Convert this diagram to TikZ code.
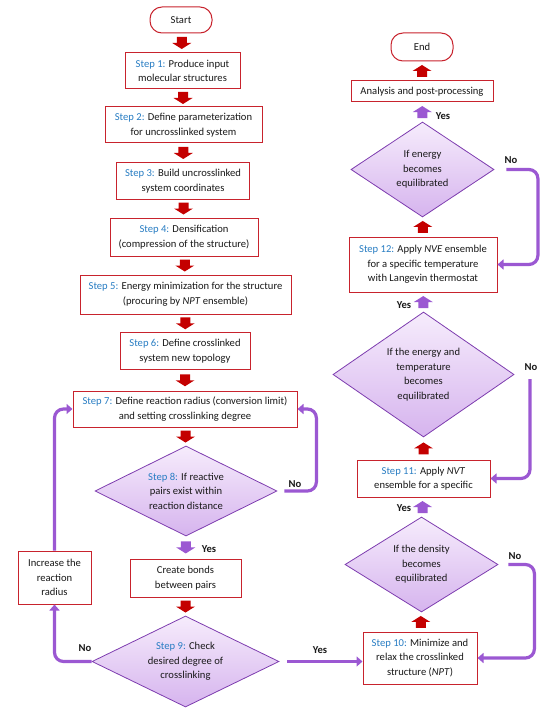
\documentclass[tikz,border=0pt]{standalone}
\usepackage{fontspec}
\setmainfont{Carlito}
\usetikzlibrary{shapes.geometric,arrows.meta,calc}
\definecolor{boxred}{RGB}{200,35,45}
\definecolor{arrred}{RGB}{196,0,0}
\definecolor{conpurple}{RGB}{155,88,210}
\definecolor{dborder}{RGB}{125,60,175}
\definecolor{dtop}{RGB}{246,236,252}
\definecolor{dbot}{RGB}{214,180,238}
\definecolor{stepblue}{RGB}{40,125,195}
\definecolor{txt}{RGB}{25,25,25}
\newcommand\stp[1]{\textcolor{stepblue}{Step #1:}}
\newcommand\barrdown[3]{%
  \fill[#3] ($(#1)!0.5!(#2)$) +(-5,-6) -- +(5,-6) -- +(5,0) -- +(9.5,0) -- +(0,6) -- +(-9.5,0) -- +(-5,0) -- cycle;}
\newcommand\barrup[3]{%
  \fill[#3] ($(#1)!0.5!(#2)$) +(-5,6) -- +(5,6) -- +(5,0) -- +(9.5,0) -- +(0,-6) -- +(-9.5,0) -- +(-5,0) -- cycle;}
\begin{document}
\begin{tikzpicture}[x=1pt,y=-1pt,
  font=\fontsize{10.6}{14.6}\selectfont,
  every node/.style={text=txt},
  box/.style={draw=boxred,line width=1pt,fill=white,align=center,inner sep=1pt},
  term/.style={box,rounded corners=12pt},
  dec/.style={diamond,draw=dborder,line width=0.8pt,top color=dtop,bottom color=dbot,align=center,inner sep=0pt,aspect=2},
  conn/.style={draw=conpurple,line width=3.2pt,rounded corners=9pt,-{Triangle[width=10pt,length=6pt]}},
  lab/.style={font=\fontsize{10.6}{12}\selectfont\bfseries}
]
\useasboundingbox (0,0) rectangle (550,714);
% left column
\node[term,minimum width=62,minimum height=26] (start) at (181,20) {Start};
\node[box,minimum width=115,minimum height=36] (s1) at (182.5,71) {\stp{1} Produce input\\molecular structures};
\node[box,minimum width=157,minimum height=36] (s2) at (183.5,125) {\stp{2} Define parameterization\\for uncrosslinked system};
\node[box,minimum width=133,minimum height=36] (s3) at (183,181) {\stp{3} Build uncrosslinked\\system coordinates};
\node[box,minimum width=148,minimum height=38] (s4) at (184,237) {\stp{4} Densification\\(compression of the structure)};
\node[box,minimum width=211,minimum height=39] (s5) at (185.5,294.5) {\stp{5} Energy minimization for the structure\\(procuring by \textit{NPT} ensemble)};
\node[box,minimum width=130,minimum height=37] (s6) at (185,351) {\stp{6} Define crosslinked\\system new topology};
\node[box,minimum width=224,minimum height=36] (s7) at (185,409) {\stp{7} Define reaction radius (conversion limit)\\and setting crosslinking degree};
\node[dec,minimum width=182,minimum height=90] (s8) at (186,491) {\stp{8} If reactive\\pairs exist within\\reaction distance};
\node[box,minimum width=111,minimum height=38] (bonds) at (185.5,578) {Create bonds\\between pairs};
\node[dec,minimum width=187,minimum height=91] (s9) at (185.5,661.5) {\stp{9} Check\\desired degree of\\crosslinking};
\node[box,minimum width=73,minimum height=53] (incr) at (54.5,577.5) {Increase the\\reaction\\radius};
% right column
\node[term,minimum width=62,minimum height=28] (end) at (422,47) {End};
\node[box,minimum width=142,minimum height=21] (anal) at (422,91.5) {Analysis and post-processing};
\node[dec,minimum width=143,minimum height=95] (d1) at (422.5,169.5) {If energy\\becomes\\equilibrated};
\node[box,minimum width=148,minimum height=55] (s12) at (423,264.5) {\stp{12} Apply \textit{NVE} ensemble\\for a specific temperature\\with Langevin thermostat};
\node[dec,minimum width=181,minimum height=125] (d2) at (423.5,374.5) {If the energy and\\temperature\\becomes\\equilibrated};
\node[box,minimum width=133,minimum height=37] (s11) at (423.5,478.5) {\stp{11} Apply \textit{NVT}\\ensemble for a specific};
\node[dec,minimum width=153,minimum height=95] (d3) at (421.5,564.5) {If the density\\becomes\\equilibrated};
\node[box,minimum width=114,minimum height=52] (s10) at (420,658) {\stp{10} Minimize and\\relax the crosslinked\\structure (\textit{NPT})};
% block arrows left
\barrdown{start.south}{s1.north}{arrred}
\barrdown{s1.south}{s2.north}{arrred}
\barrdown{s2.south}{s3.north}{arrred}
\barrdown{s3.south}{s4.north}{arrred}
\barrdown{s4.south}{s5.north}{arrred}
\barrdown{s5.south}{s6.north}{arrred}
\barrdown{s6.south}{s7.north}{arrred}
\barrdown{s7.south}{s8.north}{arrred}
\barrdown{s8.south}{bonds.north}{conpurple}
\barrdown{bonds.south}{s9.north}{arrred}
% block arrows right
\barrup{anal.north}{end.south}{arrred}
\barrup{d1.north}{anal.south}{conpurple}
\barrup{s12.north}{d1.south}{arrred}
\barrup{d2.north}{s12.south}{conpurple}
\barrup{s11.north}{d2.south}{arrred}
\barrup{d3.north}{s11.south}{conpurple}
\barrup{s10.north}{d3.south}{arrred}
% connectors
\draw[conn,shorten <=7pt] (s8.east) -- ++(39,0) |- (s7.east);
\draw[conn] (s9.west) -| (incr.south);
\draw[conn] (incr.north) |- (s7.west);
\draw[conn,shorten <=8pt] (s9.east) -- (s9.east -| s10.west);
\draw[conn,shorten <=12pt] (d1.east) -- ++(43.5,0) |- (s12.east);
\coordinate (d2no) at (530,379);
\draw[conn] (d2no) |- (s11.east);
\draw[conn,shorten <=10pt] (d3.east) -- ++(36,0) |- (s10.east);
% labels
\node[lab] (l1) at (295,484) {No};
\node[lab] (l2) at (209,549) {Yes};
\node[lab] (l3) at (85,648) {No};
\node[lab] (l4) at (320,650) {Yes};
\node[lab] (l5) at (443,116) {Yes};
\node[lab] (l6) at (511,160) {No};
\node[lab] (l7) at (404,305) {Yes};
\node[lab] (l8) at (531,367) {No};
\node[lab] (l9) at (404,508) {Yes};
\node[lab] (l10) at (515,556) {No};
\end{tikzpicture}
\end{document}
